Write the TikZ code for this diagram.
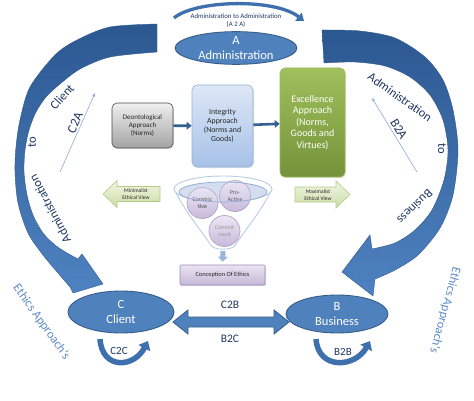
\documentclass[tikz,border=0pt]{standalone}
\usepackage{fontspec}
\setmainfont{Carlito}
\usetikzlibrary{shapes.geometric,arrows.meta,shadows,calc}
\definecolor{blueF}{HTML}{4F81BD}
\definecolor{blueD}{HTML}{385D8A}
\definecolor{navy}{HTML}{1F3864}
\definecolor{arrDark}{HTML}{2C5891}
\definecolor{arrLight}{HTML}{4E82C0}
\definecolor{arrEdge}{HTML}{2F5A8E}
\definecolor{arrMid}{HTML}{3F70AE}
\definecolor{thinA}{HTML}{8EAAD6}
\definecolor{ethicsC}{HTML}{5E8BC6}
\definecolor{grayT}{HTML}{EFEFEF}
\definecolor{grayB}{HTML}{A3A3A3}
\definecolor{intT}{HTML}{DDE7F6}
\definecolor{intB}{HTML}{A6C1E8}
\definecolor{intE}{HTML}{95B3D7}
\definecolor{exT}{HTML}{9FC05C}
\definecolor{exB}{HTML}{75923A}
\definecolor{exE}{HTML}{9BBB59}
\definecolor{grT}{HTML}{F0F5E6}
\definecolor{grB}{HTML}{CBDDA4}
\definecolor{grE}{HTML}{B3CC82}
\definecolor{funE}{HTML}{B9CDE5}
\definecolor{funI}{HTML}{8EA9D3}
\definecolor{funF}{HTML}{D5DEEF}
\definecolor{cirT}{HTML}{EDE7F4}
\definecolor{cirB}{HTML}{C7B9DB}
\definecolor{cirE}{HTML}{B3A2C7}
\definecolor{conT}{HTML}{EAE5F0}
\definecolor{conB}{HTML}{C4B7D8}
\definecolor{conE}{HTML}{9C87BC}
\definecolor{fArr}{HTML}{9DB5D8}
\definecolor{linkA}{HTML}{376092}
\tikzset{
  ell/.style={ellipse, draw=blueD, line width=0.9pt, fill=blueF, text=white, align=center, inner sep=0pt, font=\fontsize{12.5}{15}\selectfont},
  bigarr/.style={top color=arrDark, bottom color=arrLight, draw=arrEdge, line width=0.4pt},
  boxs/.style={rounded corners=5pt, align=center, inner sep=0pt, drop shadow={opacity=0.25,shadow xshift=1pt,shadow yshift=-1.2pt}},
  lbl/.style={text=navy, font=\fontsize{12.5}{14}\selectfont, inner sep=0pt},
  ethl/.style={text=ethicsC, font=\fontsize{12.5}{14}\selectfont, inner sep=0pt},
  circ/.style={circle, minimum size=31pt, inner sep=0pt, top color=cirT, bottom color=cirB, draw=cirE, line width=0.7pt, align=center, font=\fontsize{6}{6.5}\selectfont, text=black!75},
  link/.style={line width=2.6pt, draw=linkA, -{Triangle[length=5pt,width=7.5pt]}},
  thin/.style={draw=thinA, line width=0.6pt, -{Stealth[length=4pt,width=3pt]}},
  uarr/.style={line width=5.5pt, draw=arrMid, -{Triangle[length=8pt,width=13pt]}},
  blk/.style={top color=grT, bottom color=grB, draw=grE, line width=0.6pt},
  blktxt/.style={align=center, inner sep=0pt, font=\fontsize{5.5}{7}\selectfont, text=black!85}
}
\begin{document}
\begin{tikzpicture}[x=1pt,y=-1pt]
\useasboundingbox (0,0) rectangle (474,401);
\fill[white] (0,0) rectangle (474,401);

% big left curved arrow
\path[bigarr] plot[smooth] coordinates {(157,24) (110,27) (77,40) (55,55) (30,87) (20,120) (16,147) (15,172) (18,203) (28,233) (43,255) (58,273) (70,287)}
  -- (73,293) -- (103,284) -- (82,254) -- (78,259)
  -- plot[smooth] coordinates {(78,259) (67,253) (55,245) (43,233) (33,215) (27,195) (24,172) (25,150) (29,130) (36,112) (46,97) (60,84) (80,69) (110,57) (157,52)} -- cycle;

% big right curved arrow
\path[bigarr] plot[smooth] coordinates {(322,30) (360,31) (395,38) (425,57) (443,80) (453,110) (458,150) (453,195) (440,228) (418,255) (395,270) (375,279)}
  -- (373,296) -- (342,272) -- (370,235) -- (372,249)
  -- plot[smooth] coordinates {(372,249) (395,243) (415,230) (432,210) (444,180) (448,150) (443,120) (430,95) (410,77) (385,66) (355,62) (324,63)} -- cycle;

% top small arrow
\coordinate (ta1) at (174,18);
\coordinate (ta2) at (304,21);
\draw[line width=3.3pt, draw=arrMid, -{Triangle[length=7pt,width=10pt]}] (ta1) .. controls (195,0) and (275,-2) .. (ta2);
\node[font=\fontsize{6.8}{8.5}\selectfont, text=navy, align=center, inner sep=0pt] (a2a) at (236,20.5) {Administration to Administration\\(A 2 A)};

% main ellipses
\node[ell, minimum width=122pt, minimum height=31pt] (A) at (236,48) {A\\Administration};
\node[ell, minimum width=106pt, minimum height=42pt] (C) at (121,312) {C\\Client};
\node[ell, minimum width=102pt, minimum height=38pt] (B) at (337,314) {B\\Business};

% approach boxes
\node[boxs, minimum width=61pt, minimum height=45pt, top color=grayT, bottom color=grayB, draw=black!70, line width=0.6pt, font=\fontsize{7}{8}\selectfont, text=black!85] (deon) at (142.5,125.5) {Deontological\\Approach\\(Norms)};
\node[boxs, minimum width=61pt, minimum height=82pt, top color=intT, bottom color=intB, draw=intE, line width=0.6pt, font=\fontsize{7.8}{9}\selectfont, text=black!85] (integ) at (222.5,126) {Integrity\\Approach\\(Norms and\\Goods)};
\node[boxs, minimum width=65pt, minimum height=109pt, top color=exT, bottom color=exB, draw=exE, line width=0.6pt, font=\fontsize{10}{11.6}\selectfont, text=white] (excel) at (312.5,122.5) {Excellence\\Approach\\(Norms,\\Goods and\\Virtues)};
\draw[link] (deon) -- (integ);
\draw[link] (integ) -- (excel);

% minimalist / maximalist block arrows
\path[blk] (103,194) -- (117,180.5) -- (117,186.5) -- (160,186.5) -- (160,201.5) -- (117,201.5) -- (117,207.5) -- cycle;
\node[blktxt] (minv) at (136,194) {Minimalist\\Ethical View};
\path[blk] (350,194.5) -- (336,181) -- (336,187) -- (295,187) -- (295,202) -- (336,202) -- (336,208) -- cycle;
\node[blktxt] (maxv) at (318,195) {Maximalist\\Ethical View};

% funnel
\path[draw=funE, line width=0.9pt, fill=white] (174,189) .. controls (185,212) and (204,234) .. (210,244) .. controls (212,251) and (234,251) .. (236,244) .. controls (242,234) and (261,212) .. (272,189);
\draw[draw=funE, line width=0.9pt, fill=white] (223,189) ellipse [x radius=49, y radius=13];
\fill[funF] (223,192) ellipse [x radius=44, y radius=10];
\node[circ] (con) at (202.5,203) {Constric\\tive};
\node[circ] (pro) at (235,196) {Pro-\\Active};
\node[circ, text=black!40] (com) at (224.5,231) {Commit\\ment};
\draw[draw=funI, line width=0.7pt, fill=funF, fill opacity=0.2] (223,192) ellipse [x radius=44, y radius=10];
\node[boxs, rounded corners=1pt, minimum width=85pt, minimum height=20pt, top color=conT, bottom color=conB, draw=conE, line width=0.6pt, font=\fontsize{6.4}{7}\selectfont, text=black!85] (conc) at (222.5,275) {Conception Of Ethics};
\coordinate (fbot) at (223,251);
\draw[line width=5pt, draw=fArr, -{Triangle[length=5pt,width=10pt]}, shorten >=3pt] (fbot) -- (conc.north);

% double arrow between client and business
\coordinate (dl) at (173,322);
\coordinate (dr) at (289,322);
\path[fill=blueF, draw=blueD, line width=0.8pt] (dl) -- ++(15,-12) -- ++(0,7) -- ($(dr)+(-15,-5)$) -- ++(0,-7) -- (dr) -- ++(-15,12) -- ++(0,-7) -- ($(dl)+(15,5)$) -- ++(0,7) -- cycle;
\node[lbl, font=\fontsize{11.5}{13}\selectfont] (c2b) at (230,305) {C2B};
\node[lbl, font=\fontsize{11.5}{13}\selectfont] (b2c) at (230,339) {B2C};

% self arrows
\coordinate (cc1) at (100,339);
\coordinate (cc2) at (148,341);
\draw[uarr] (cc1) .. controls (102,370) and (134,368) .. (cc2);
\node[lbl, font=\fontsize{11}{13}\selectfont] (c2c) at (119,351) {C2C};
\coordinate (bb1) at (316,339);
\coordinate (bb2) at (370,341);
\draw[uarr] (bb1) .. controls (318,370) and (355,368) .. (bb2);
\node[lbl, font=\fontsize{11}{13}\selectfont] (b2b) at (343,352) {B2B};

% thin arrows
\coordinate (t1) at (60,172);
\coordinate (t2) at (95,93);
\draw[thin] (t1) -- (t2);
\node[lbl, font=\fontsize{13}{14}\selectfont, rotate=66] (c2a) at (75,123) {C2A};
\coordinate (t3) at (417,172);
\coordinate (t4) at (372,98);
\draw[thin] (t3) -- (t4);
\node[lbl, font=\fontsize{13}{14}\selectfont, rotate=-59] (b2a) at (399,129) {B2A};

% labels on big arrows
\node[lbl, rotate=48] (lc) at (62,97) {Client};
\node[lbl, rotate=90] (lt) at (32,142) {to};
\node[lbl, rotate=118] (la) at (50,209) {Administration};
\node[lbl, rotate=-35] (ra) at (400,97) {Administration};
\node[lbl, rotate=-90] (rt) at (442,149) {to};
\node[lbl, rotate=-136] (rb) at (415,207) {Business};

% ethics approach labels
\node[ethl, rotate=-54.5] (el) at (41.5,322) {Ethics Approach's};
\node[ethl, rotate=-105] (er) at (445,310) {Ethics Approach's};
\end{tikzpicture}
\end{document}
